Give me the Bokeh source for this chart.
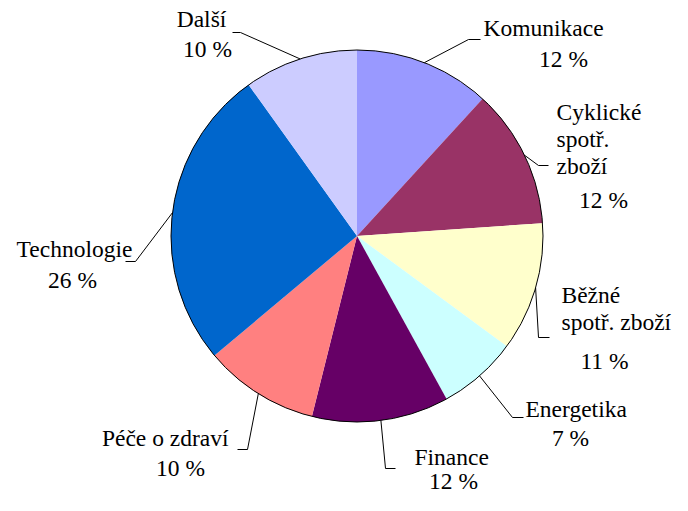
import numpy as np
from bokeh.plotting import figure
from bokeh.models import Range1d, ColumnDataSource
from bokeh.embed import file_html
from bokeh.resources import INLINE
from bokeh.core.properties import value

# ---- data (clockwise from 12 o'clock) ----
categories = ["Komunikace", "Cyklické spotř. zboží", "Běžné spotř. zboží", "Energetika",
              "Finance", "Péče o zdraví", "Technologie", "Další"]
shares = [11.8, 12.1, 11.2, 6.9, 11.9, 10.0, 26.2, 9.9]
pct_labels = ["12 %", "12 %", "11 %", "7 %", "12 %", "10 %", "26 %", "10 %"]
name_lines = [["Komunikace"], ["Cyklické", "spotř.", "zboží"], ["Běžné", "spotř. zboží"],
              ["Energetika"], ["Finance"], ["Péče o zdraví"], ["Technologie"], ["Další"]]
colors = ["#9999FF", "#993366", "#FFFFCC", "#CCFFFF", "#660066", "#FF8080", "#0066CC", "#CCCCFF"]

# ---- layout (picture pixel coordinates) ----
CX, CY, R = 356.5, 235.5, 186
FONT = value("Liberation Serif")
FS = "23.5px"
LINE_H = 27
# name: (x, y of first line centre, align), pct: (x, y centre)
name_pos = [(483, 27, "left"), (556, 111, "left"), (561, 294, "left"), (525, 408, "left"),
            (414, 456, "left"), (228, 437, "right"), (74, 248, "center"), (201, 18, "center")]
pct_pos = [(563, 58), (603, 199), (604, 360), (570, 437), (453, 480), (180, 467), (72, 279), (207, 48)]
# leader elbow: (corner x, corner y, end x)
elbows = [(468, 39, 480), (538, 165, 548), (538, 337, 549), (512, 417, 523),
          (385, 468, 395), (247, 449, 237), (135, 261, 125), (240, 32, 232)]

W, H = 672, 495
p = figure(width=W, height=H, x_range=Range1d(0, W), y_range=Range1d(-H, 0),
           output_backend="svg", toolbar_location=None, min_border=0)
p.axis.visible = False
p.grid.visible = False
p.outline_line_color = None
p.background_fill_color = "white"

fr = np.array(shares) / sum(shares)
cum_end = np.cumsum(fr)
cum_start = cum_end - fr
start_ang = np.pi / 2 - 2 * np.pi * cum_end
end_ang = np.pi / 2 - 2 * np.pi * cum_start

src = ColumnDataSource(dict(start=start_ang, end=end_ang, color=colors, cat=categories))
p.wedge(x=CX, y=-CY, radius=R, start_angle="start", end_angle="end", fill_color="color",
        line_color=None, source=src)
p.circle(x=[CX], y=[-CY], radius=R, fill_color=None, line_color="black", line_width=1)

# leader lines
mid = (cum_start + cum_end) / 2
ang = 2 * np.pi * mid
sx = CX + R * np.sin(ang)
sy = CY - R * np.cos(ang)
xs, ys = [], []
for i, (ex, ey, endx) in enumerate(elbows):
    xs.append([sx[i], ex, endx])
    ys.append([-sy[i], -ey, -ey])
p.multi_line(xs=xs, ys=ys, line_color="black", line_width=1)

# texts
for i in range(len(categories)):
    nx, ny, al = name_pos[i]
    for j, ln in enumerate(name_lines[i]):
        p.text(x=[nx], y=[-(ny + j * LINE_H)], text=[ln], text_font=FONT, text_font_size=FS,
               text_align=al, text_baseline="middle", text_color="black")
    px, py = pct_pos[i]
    p.text(x=[px], y=[-py], text=[pct_labels[i]], text_font=FONT, text_font_size=FS,
           text_align="center", text_baseline="middle", text_color="black")

open("out.html", "w").write(file_html(p, INLINE))
